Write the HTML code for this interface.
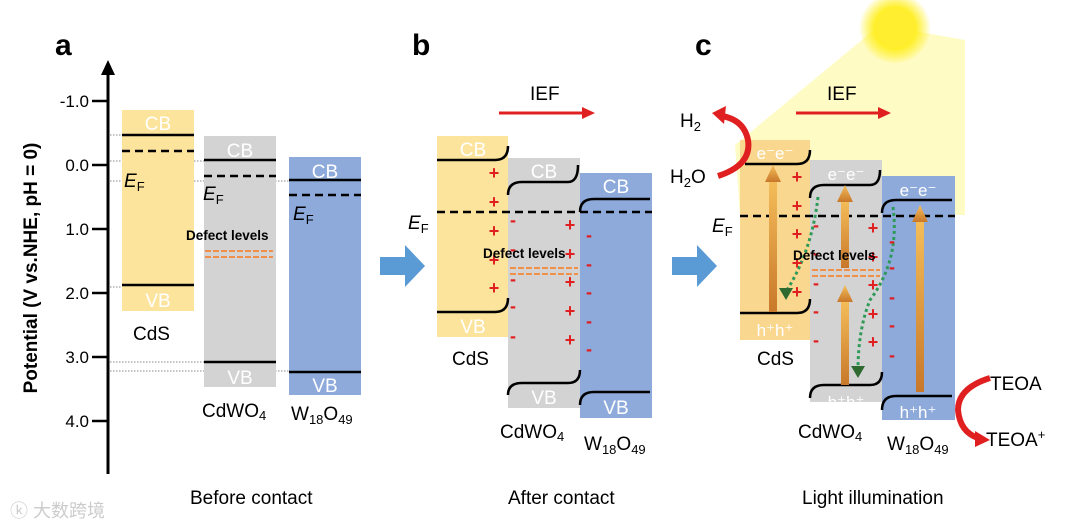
<!DOCTYPE html>
<html><head><meta charset="utf-8"><style>
body{margin:0;background:#fff}
svg{display:block;font-family:"Liberation Sans",Arial,sans-serif}
</style></head><body>
<svg width="1080" height="529" viewBox="0 0 1080 529" xmlns="http://www.w3.org/2000/svg">
<defs>
<radialGradient id="sun" cx="0.5" cy="0.5" r="0.5">
<stop offset="0" stop-color="#fffbe0"/><stop offset="0.55" stop-color="#ffee22"/><stop offset="1" stop-color="#ffee00" stop-opacity="0"/>
</radialGradient>
<linearGradient id="ar" x1="0" y1="1" x2="0" y2="0"><stop offset="0" stop-color="#c8782a"/><stop offset="1" stop-color="#f5be5a"/></linearGradient>
</defs>
<!-- Panel a -->
<text x="55" y="55" font-size="30" font-weight="bold">a</text>
<line x1="108" y1="70" x2="108" y2="474" stroke="#000" stroke-width="3"/>
<polygon points="108,60 101,75 115,75"/>
<g stroke="#000" stroke-width="2.5">
<line x1="92" y1="101" x2="108" y2="101"/><line x1="92" y1="165" x2="108" y2="165"/><line x1="92" y1="229" x2="108" y2="229"/><line x1="92" y1="293" x2="108" y2="293"/><line x1="92" y1="357" x2="108" y2="357"/><line x1="92" y1="421" x2="108" y2="421"/>
</g>
<g font-size="17" text-anchor="end">
<text x="89" y="107">-1.0</text><text x="89" y="171">0.0</text><text x="89" y="235">1.0</text><text x="89" y="299">2.0</text><text x="89" y="363">3.0</text><text x="89" y="427">4.0</text>
</g>
<text transform="translate(37,268) rotate(-90)" font-size="19" font-weight="bold" text-anchor="middle">Potential (V vs.NHE, pH = 0)</text>
<g stroke="#888" stroke-width="1" stroke-dasharray="1.5,1.5">
<line x1="110" y1="135" x2="122" y2="135"/><line x1="110" y1="161" x2="204" y2="161"/><line x1="110" y1="181" x2="289" y2="181"/><line x1="110" y1="287" x2="122" y2="287"/><line x1="110" y1="362" x2="204" y2="362"/><line x1="110" y1="371" x2="289" y2="371"/>
</g>
<rect x="122" y="110" width="72" height="201" fill="#fde49c"/>
<rect x="204" y="136" width="72" height="251" fill="#d3d3d3"/>
<rect x="289" y="157" width="72" height="238" fill="#8eaadb"/>
<g stroke="#000" stroke-width="2.5">
<line x1="122" y1="135" x2="194" y2="135"/><line x1="122" y1="285" x2="194" y2="285"/>
<line x1="204" y1="160" x2="276" y2="160"/><line x1="204" y1="362" x2="276" y2="362"/>
<line x1="289" y1="180" x2="361" y2="180"/><line x1="289" y1="372" x2="361" y2="372"/>
</g>
<g stroke="#000" stroke-width="2.5" stroke-dasharray="8,5">
<line x1="122" y1="151" x2="194" y2="151"/><line x1="204" y1="176" x2="276" y2="176"/><line x1="289" y1="195" x2="361" y2="195"/>
</g>
<g fill="#fff" font-size="19" text-anchor="middle">
<text x="158" y="130">CB</text><text x="158" y="307">VB</text>
<text x="240" y="157">CB</text><text x="240" y="384">VB</text>
<text x="325" y="178">CB</text><text x="325" y="392">VB</text>
</g>
<g font-size="19"><text x="124" y="187" font-style="italic">E<tspan font-size="13" font-style="normal" dy="4">F</tspan></text>
<text x="203" y="200" font-style="italic">E<tspan font-size="13" font-style="normal" dy="4">F</tspan></text>
<text x="293" y="220" font-style="italic">E<tspan font-size="13" font-style="normal" dy="4">F</tspan></text></g>
<text x="186" y="240" font-size="13.5" font-weight="bold">Defect levels</text>
<g stroke="#f0904a" stroke-width="2" stroke-dasharray="6,2">
<line x1="205" y1="251" x2="273" y2="251"/><line x1="205" y1="257" x2="273" y2="257"/></g>
<text x="133" y="340" font-size="19">CdS</text>
<text x="202" y="417" font-size="19">CdWO<tspan font-size="13" dy="3">4</tspan></text>
<text x="291" y="420" font-size="19">W<tspan font-size="13" dy="4">18</tspan><tspan dy="-4">O</tspan><tspan font-size="13" dy="4">49</tspan></text>
<text x="190" y="504" font-size="19">Before contact</text>
<text x="10" y="517" font-size="18" fill="#ccc">ⓚ 大数跨境</text>
<!-- blue arrows -->
<polygon points="380,257 405,257 405,245 425,266 405,287 405,275 380,275" fill="#5b9bd5"/>
<polygon points="672,257 697,257 697,245 717,266 697,287 697,275 672,275" fill="#5b9bd5"/>
<!-- Panel b -->
<text x="412" y="55" font-size="30" font-weight="bold">b</text>
<text x="530" y="100" font-size="19">IEF</text>
<line x1="499" y1="113" x2="584" y2="113" stroke="#e02020" stroke-width="3"/><polygon points="595,113 582,107 582,119" fill="#e02020"/>
<rect x="437" y="136" width="71" height="201" fill="#fde49c"/>
<rect x="508" y="158" width="72" height="250" fill="#d3d3d3"/>
<rect x="580" y="173" width="72" height="245" fill="#8eaadb"/>
<g fill="none" stroke="#000" stroke-width="2.5">
<path d="M437,160 H495 Q508,160 508,146"/><path d="M437,312 H495 Q508,312 508,298"/>
<path d="M508,195 Q508,182 522,182 H568 Q578,182 578,165"/><path d="M508,395 Q508,383 522,383 H568 Q580,383 580,370"/>
<path d="M580,212 Q580,199 594,199 H650"/><path d="M580,405 Q580,392 594,392 H650"/>
</g>
<line x1="437" y1="212" x2="652" y2="212" stroke="#000" stroke-width="2.5" stroke-dasharray="8,5"/>
<g fill="#fff" font-size="19" text-anchor="middle">
<text x="473" y="156">CB</text><text x="473" y="333">VB</text>
<text x="544" y="178">CB</text><text x="544" y="404">VB</text>
<text x="616" y="193">CB</text><text x="616" y="414">VB</text></g>
<text x="408" y="229" font-size="19" font-style="italic">E<tspan font-size="13" font-style="normal" dy="4">F</tspan></text>
<g fill="#e02020" font-size="18" font-weight="bold" text-anchor="middle">
<text x="494" y="179">+</text><text x="494" y="208">+</text><text x="494" y="237">+</text><text x="494" y="266">+</text><text x="494" y="294">+</text>
<text x="570" y="231">+</text><text x="570" y="260">+</text><text x="570" y="288">+</text><text x="570" y="317">+</text><text x="570" y="346">+</text>
<text x="513" y="226">-</text><text x="513" y="255">-</text><text x="513" y="285">-</text><text x="513" y="312">-</text><text x="513" y="342">-</text>
<text x="589" y="241">-</text><text x="589" y="270">-</text><text x="589" y="298">-</text><text x="589" y="327">-</text><text x="589" y="355">-</text></g>
<text x="483" y="258" font-size="13.5" font-weight="bold">Defect levels</text>
<g stroke="#f0904a" stroke-width="2" stroke-dasharray="6,2">
<line x1="510" y1="268" x2="578" y2="268"/><line x1="510" y1="274" x2="578" y2="274"/></g>
<text x="452" y="365" font-size="19">CdS</text>
<text x="500" y="438" font-size="19">CdWO<tspan font-size="13" dy="3">4</tspan></text>
<text x="584" y="450" font-size="19">W<tspan font-size="13" dy="4">18</tspan><tspan dy="-4">O</tspan><tspan font-size="13" dy="4">49</tspan></text>
<text x="508" y="504" font-size="19">After contact</text>
<!-- Panel c -->
<polygon points="880,25 735,145 740,215 965,215 965,40" fill="#fffbc4"/>
<circle cx="895" cy="28" r="36" fill="url(#sun)"/>
<circle cx="895" cy="28" r="20" fill="#ffee30"/>
<text x="695" y="55" font-size="30" font-weight="bold">c</text>
<text x="827" y="100" font-size="19">IEF</text>
<line x1="796" y1="113" x2="880" y2="113" stroke="#e02020" stroke-width="3"/><polygon points="891,113 878,107 878,119" fill="#e02020"/>
<rect x="740" y="140" width="70" height="200" fill="#fad78f"/>
<rect x="810" y="160" width="72" height="242" fill="#d3d3d3"/>
<rect x="882" y="176" width="73" height="244" fill="#8eaadb"/>
<g fill="none" stroke="#000" stroke-width="2.5">
<path d="M745,164 H797 Q810,164 810,150"/><path d="M740,313 H797 Q810,313 810,299"/>
<path d="M810,198 Q810,185 824,185 H870 Q880,185 880,170"/><path d="M810,398 Q810,385 824,385 H870 Q882,385 882,372"/>
<path d="M882,213 Q882,200 896,200 H952"/><path d="M882,410 Q882,396 896,396 H952"/>
</g>
<line x1="740" y1="216" x2="955" y2="216" stroke="#000" stroke-width="2.5" stroke-dasharray="8,5"/>
<g fill="url(#ar)">
<rect x="769" y="180" width="8" height="132"/><polygon points="765,182 773,165 781,182"/>
<rect x="841" y="200" width="8" height="68"/><polygon points="837,202 845,185 853,202"/>
<rect x="841" y="300" width="8" height="85"/><polygon points="837,302 845,285 853,302"/>
<rect x="916" y="220" width="8" height="172"/><polygon points="912,222 920,205 928,222"/>
</g>
<g fill="none" stroke="#2e9a5a" stroke-width="3" stroke-dasharray="3,3">
<path d="M818,197 Q812,250 787,290"/><path d="M893,207 Q900,260 870,300 Q858,330 858,370"/></g>
<polygon points="779,288 793,288 786,300" fill="#2e6a30"/><polygon points="851,366 865,366 858,378" fill="#2e6a30"/>
<g fill="#fff" font-size="17" text-anchor="middle">
<text x="775" y="159">e⁻e⁻</text><text x="775" y="336">h⁺h⁺</text>
<text x="846" y="180">e⁻e⁻</text><text x="846" y="408">h⁺h⁺</text>
<text x="918" y="196">e⁻e⁻</text><text x="918" y="418">h⁺h⁺</text></g>
<text x="712" y="232" font-size="19" font-style="italic">E<tspan font-size="13" font-style="normal" dy="4">F</tspan></text>
<g fill="#e02020" font-size="18" font-weight="bold" text-anchor="middle">
<text x="797" y="183">+</text><text x="797" y="212">+</text><text x="797" y="240">+</text><text x="797" y="269">+</text><text x="797" y="298">+</text>
<text x="873" y="234">+</text><text x="873" y="263">+</text><text x="873" y="291">+</text><text x="873" y="320">+</text><text x="873" y="348">+</text>
<text x="816" y="231">-</text><text x="816" y="259">-</text><text x="816" y="289">-</text><text x="816" y="317">-</text><text x="816" y="346">-</text>
<text x="892" y="247">-</text><text x="892" y="273">-</text><text x="892" y="303">-</text><text x="892" y="331">-</text><text x="892" y="361">-</text></g>
<text x="793" y="260" font-size="13.5" font-weight="bold">Defect levels</text>
<g stroke="#f0904a" stroke-width="2" stroke-dasharray="6,2">
<line x1="812" y1="270" x2="880" y2="270"/><line x1="812" y1="276" x2="880" y2="276"/></g>
<text x="680" y="127" font-size="19">H<tspan font-size="13" dy="4">2</tspan></text>
<text x="670" y="183" font-size="19">H<tspan font-size="13" dy="4">2</tspan><tspan dy="-4">O</tspan></text>
<path d="M718,176 Q752,165 748,140 Q744,120 722,116" fill="none" stroke="#e02020" stroke-width="6"/>
<polygon points="712,113 726,106 724,124" fill="#e02020"/>
<text x="990" y="390" font-size="19">TEOA</text>
<text x="986" y="446" font-size="19">TEOA<tspan font-size="13" dy="-7">+</tspan></text>
<path d="M990,378 Q958,388 958,410 Q960,432 978,438" fill="none" stroke="#e02020" stroke-width="6"/>
<polygon points="990,440 975,431 975,447" fill="#e02020"/>
<text x="757" y="365" font-size="19">CdS</text>
<text x="798" y="438" font-size="19">CdWO<tspan font-size="13" dy="3">4</tspan></text>
<text x="887" y="450" font-size="19">W<tspan font-size="13" dy="4">18</tspan><tspan dy="-4">O</tspan><tspan font-size="13" dy="4">49</tspan></text>
<text x="802" y="504" font-size="19">Light illumination</text>
</svg>
</body></html>
